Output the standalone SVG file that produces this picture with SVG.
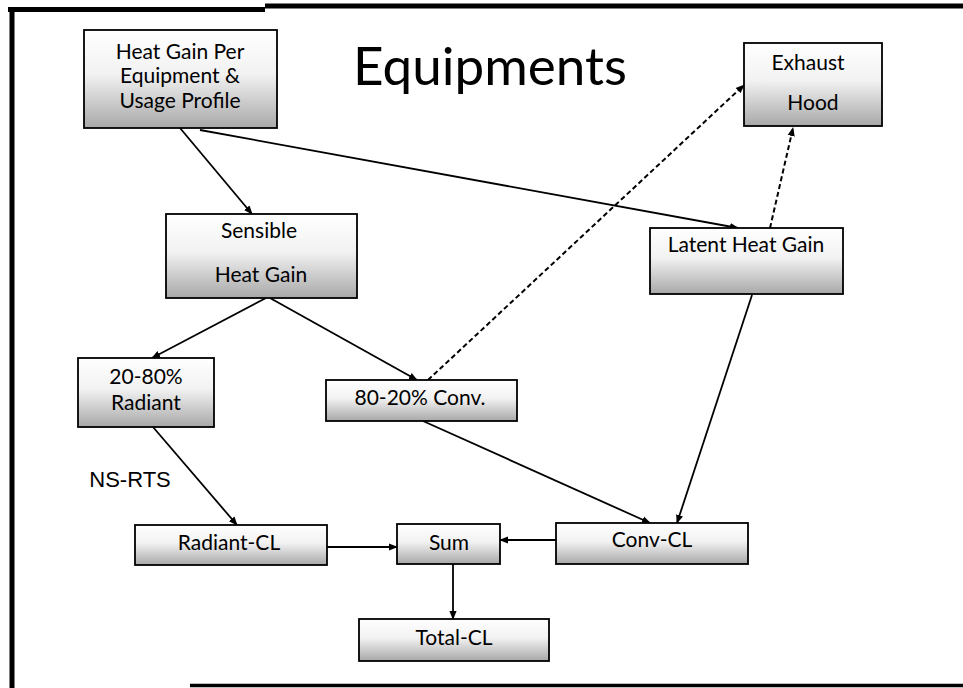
<svg xmlns="http://www.w3.org/2000/svg" width="963" height="688" viewBox="0 0 963 688">
<defs>
<linearGradient id="g" x1="0" y1="0" x2="0" y2="1">
<stop offset="0" stop-color="#ffffff"/>
<stop offset="0.45" stop-color="#f2f2f2"/>
<stop offset="1" stop-color="#a8a8a8"/>
</linearGradient>
<marker id="a" viewBox="0 0 10 10" refX="9" refY="5" markerWidth="9" markerHeight="9" markerUnits="userSpaceOnUse" orient="auto">
<path d="M0,1 L10,5 L0,9 z" fill="#000"/>
</marker>
<style>
.box{fill:url(#g);stroke:#000;stroke-width:1.8}
.t{font-family:Lato,"Liberation Sans",sans-serif;font-size:21px;fill:#000;text-anchor:middle}
.c{fill:none;stroke:#000;stroke-width:1.8;marker-end:url(#a)}
.d{fill:none;stroke:#000;stroke-width:2;stroke-dasharray:5 3;marker-end:url(#a)}
.f{fill:none;stroke:#000}
</style>
</defs>
<rect width="963" height="688" fill="#fff"/>
<g id="frame">
<path class="f" d="M8,9.5 H265 M265,6 H963" stroke-width="5"/>
<path class="f" d="M12,8 V688" stroke-width="5"/>
<path class="f" d="M190,685.5 H963" stroke-width="3.5"/>
</g>
<text x="490" y="85" style="font-family:Lato,'Liberation Sans',sans-serif;font-size:53px;text-anchor:middle">Equipments</text>
<g id="connectors">
<line class="c" x1="180" y1="128" x2="252" y2="214"/>
<line class="c" x1="200" y1="130" x2="738" y2="228"/>
<line class="c" x1="266" y1="298" x2="152" y2="358"/>
<line class="c" x1="270" y1="298" x2="417" y2="380"/>
<line class="d" x1="428" y1="380" x2="744" y2="85"/>
<line class="d" x1="770" y1="228" x2="793" y2="128"/>
<line class="c" x1="153" y1="427" x2="237" y2="525"/>
<line class="c" x1="423" y1="421" x2="650" y2="523"/>
<line class="c" x1="752" y1="295" x2="677" y2="523"/>
<line class="c" x1="327" y1="547" x2="397" y2="547"/>
<line class="c" x1="556" y1="540" x2="500" y2="540"/>
<line class="c" x1="453" y1="564" x2="453" y2="619"/>
</g>
<text x="130" y="487" style="font-family:'Liberation Sans',Arial,sans-serif;font-size:22px;text-anchor:middle">NS-RTS</text>
<g id="heat-gain-per">
<rect class="box" x="84" y="30" width="193" height="98"/>
<text class="t" x="180" y="59">Heat Gain Per</text>
<text class="t" x="180" y="83">Equipment &amp;</text>
<text class="t" x="180" y="108">Usage Profile</text>
</g>
<g id="exhaust-hood">
<rect class="box" x="744" y="43" width="138" height="83"/>
<text class="t" x="808" y="70">Exhaust</text>
<text class="t" x="813" y="110">Hood</text>
</g>
<g id="sensible">
<rect class="box" x="166" y="214" width="191" height="84"/>
<text class="t" x="259" y="238">Sensible</text>
<text class="t" x="261" y="282">Heat Gain</text>
</g>
<g id="latent">
<rect class="box" x="650" y="228" width="193" height="66"/>
<text class="t" x="746" y="252">Latent Heat Gain</text>
</g>
<g id="radiant">
<rect class="box" x="78" y="358" width="136" height="69"/>
<text class="t" x="146" y="384">20-80%</text>
<text class="t" x="146" y="410">Radiant</text>
</g>
<g id="conv">
<rect class="box" x="326" y="380" width="191" height="41"/>
<text class="t" x="420" y="405">80-20% Conv.</text>
</g>
<g id="radiant-cl">
<rect class="box" x="135" y="525" width="192" height="40"/>
<text class="t" x="229" y="550">Radiant-CL</text>
</g>
<g id="sum">
<rect class="box" x="397" y="524" width="103" height="40"/>
<text class="t" x="449" y="550">Sum</text>
</g>
<g id="conv-cl">
<rect class="box" x="556" y="523" width="192" height="41"/>
<text class="t" x="652" y="547">Conv-CL</text>
</g>
<g id="total-cl">
<rect class="box" x="359" y="619" width="190" height="42"/>
<text class="t" x="454" y="645">Total-CL</text>
</g>
</svg>
